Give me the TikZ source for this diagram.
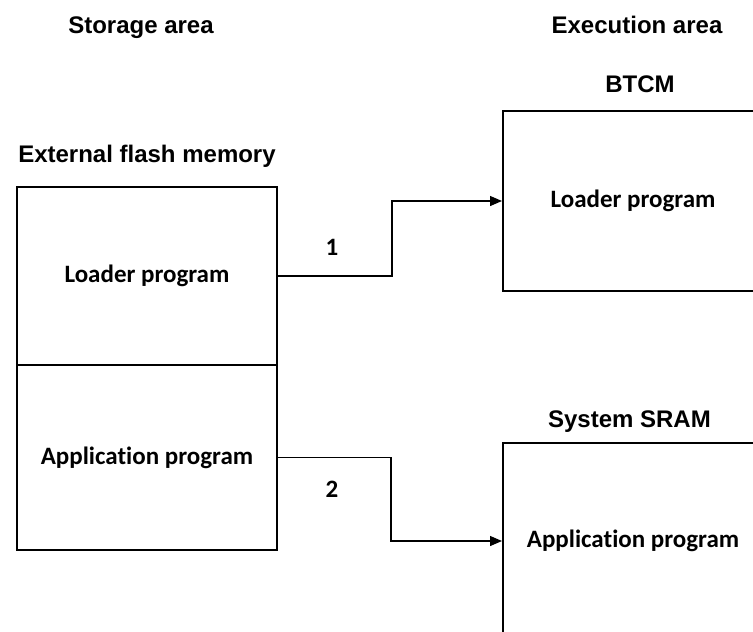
\documentclass[tikz,border=0pt]{standalone}
\usepackage{fontspec}
\setmainfont{Liberation Sans}
\newfontfamily\calfont[Ligatures=CommonOff]{Carlito}
\usetikzlibrary{arrows.meta}
\begin{document}
\begin{tikzpicture}[x=1pt,y=-1pt,
  box/.style={draw, line width=2pt, minimum width=260pt, inner sep=0pt, anchor=north west,
    font=\calfont\bfseries\fontsize{25}{28}\selectfont},
  title/.style={font=\bfseries\fontsize{24}{28}\selectfont, inner sep=0pt, anchor=base},
  conn/.style={line width=1.3pt, -{Triangle[length=12pt,width=10pt]}},
  num/.style={font=\calfont\bfseries\fontsize{25}{28}\selectfont, inner sep=0pt}]
\useasboundingbox (0,0) rectangle (753,632);
\clip (0,0) rectangle (753,632);
\fill[white] (0,0) rectangle (753,632);
% titles
\node[title] (tstore) at (141,33) {Storage area};
\node[title] (texec) at (637,33) {Execution area};
\node[title] (tbtcm) at (640,92) {BTCM};
\node[title] (tflash) at (147,162) {External flash memory};
\node[title] (tsram) at (629.5,427) {System SRAM};
% boxes
\node[box, minimum height=178pt] (ldr) at (16,186) {Loader program};
\node[box, minimum height=185pt] (app) at (16,364) {Application program};
\node[box, minimum height=180pt] (btcm) at (502,110) {Loader program};
\node[box, minimum height=196pt] (sram) at (502,442) {Application program};
% connectors
\draw[conn] (ldr.east) -- ++(114,0) |- (btcm.west);
\draw[conn] (app.east) -- ++(113,0) |- (sram.west);
\node[num] (n1) at (332,247) {1};
\node[num] (n2) at (332,489) {2};
\end{tikzpicture}
\end{document}
